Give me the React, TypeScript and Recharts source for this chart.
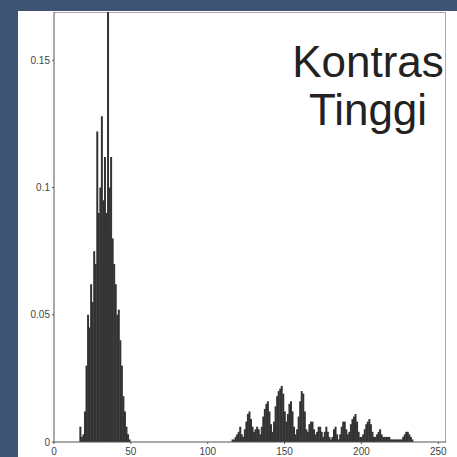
import { BarChart, Bar, XAxis, YAxis } from "recharts";

// histogram bins (grey level 0..255), probabilities
const binCount = 256;
const xTicks = [0, 50, 100, 150, 200, 250];
const yTicks = [0, 0.05, 0.1, 0.15];

const darkStart = 17;
const darkValues = [
  0.006, 0.002, 0.003, 0.012, 0.03, 0.05, 0.045, 0.062, 0.055, 0.075,
  0.07, 0.122, 0.09, 0.1, 0.128, 0.095, 0.112, 0.09, 0.19, 0.1,
  0.112, 0.08, 0.07, 0.062, 0.05, 0.052, 0.04, 0.03, 0.018, 0.012,
  0.006, 0.003, 0.001,
];

const brightStart = 115;
const brightValues = [
  0.0, 0.001, 0.001, 0.002, 0.003, 0.004, 0.006, 0.003, 0.002, 0.005,
  0.008, 0.011, 0.012, 0.009, 0.006, 0.004, 0.005, 0.006, 0.005, 0.003,
  0.006, 0.01, 0.013, 0.015, 0.016, 0.012, 0.007, 0.004, 0.008, 0.014,
  0.018, 0.02, 0.021, 0.022, 0.019, 0.012, 0.008, 0.011, 0.015, 0.016,
  0.012, 0.006, 0.003, 0.005, 0.01, 0.016, 0.02, 0.019, 0.012, 0.005,
  0.004, 0.007, 0.008, 0.008, 0.005, 0.003, 0.004, 0.006, 0.006, 0.004,
  0.002, 0.004, 0.006, 0.004, 0.002, 0.001, 0.002, 0.005, 0.006, 0.003,
  0.001, 0.003, 0.006, 0.008, 0.008, 0.005, 0.003, 0.004, 0.007, 0.009,
  0.01, 0.011, 0.008, 0.004, 0.002, 0.002, 0.003, 0.005, 0.007, 0.008,
  0.009, 0.007, 0.004, 0.002, 0.002, 0.003, 0.004, 0.005, 0.003, 0.002,
  0.002, 0.002, 0.002, 0.002, 0.001, 0.001, 0.001, 0.001, 0.001, 0.001,
  0.001, 0.001, 0.002, 0.003, 0.004, 0.004, 0.003, 0.002, 0.001,
];

const data = Array.from({ length: binCount }, (_, bin) => {
  let p = 0;
  if (bin >= darkStart && bin < darkStart + darkValues.length) p = darkValues[bin - darkStart];
  if (bin >= brightStart && bin < brightStart + brightValues.length) p = brightValues[bin - brightStart];
  return { bin, p };
});

const tickStyle = { fontSize: 10, fill: "#444", fontFamily: "Liberation Sans, Arial, sans-serif" };

export default function App() {
  return (
    <div style={{ position: "fixed", left: 0, top: 0, width: 457, height: 457, background: "#3f5373", overflow: "hidden" }}>
      <div style={{ position: "absolute", left: 18, top: 11, width: 439, height: 446, background: "#fff" }} />
      <div
        style={{
          position: "absolute", left: 54, top: 12, width: 392, height: 430,
          borderTop: "1px solid #aaa", borderRight: "1px solid #aaa", boxSizing: "border-box",
        }}
      />
      <div style={{ position: "absolute", left: 0, top: 0 }}>
        <BarChart
          width={457}
          height={457}
          data={data}
          margin={{ top: 12, right: 11, left: 14, bottom: 0 }}
          barCategoryGap={0}
          barGap={0}
        >
          <XAxis
            dataKey="bin"
            type="number"
            domain={[0, 255]}
            ticks={xTicks}
            height={15}
            tickSize={2}
            tickMargin={4}
            stroke="#555"
            tick={tickStyle}
            interval={0}
          />
          <YAxis
            type="number"
            domain={[0, 0.169]}
            allowDataOverflow
            ticks={yTicks}
            width={40}
            tickSize={2}
            tickMargin={2}
            stroke="#555"
            tick={tickStyle}
            tickFormatter={(v: number) => String(v)}
          />
          <Bar dataKey="p" fill="#333" isAnimationActive={false} />
        </BarChart>
      </div>
      <div
        style={{
          position: "absolute", left: 288, top: 38, width: 160, textAlign: "center",
          fontFamily: "Liberation Sans, Arial, sans-serif", fontSize: 44, lineHeight: "48px", color: "#222",
        }}
      >
        Kontras
        <br />
        Tinggi
      </div>
    </div>
  );
}
